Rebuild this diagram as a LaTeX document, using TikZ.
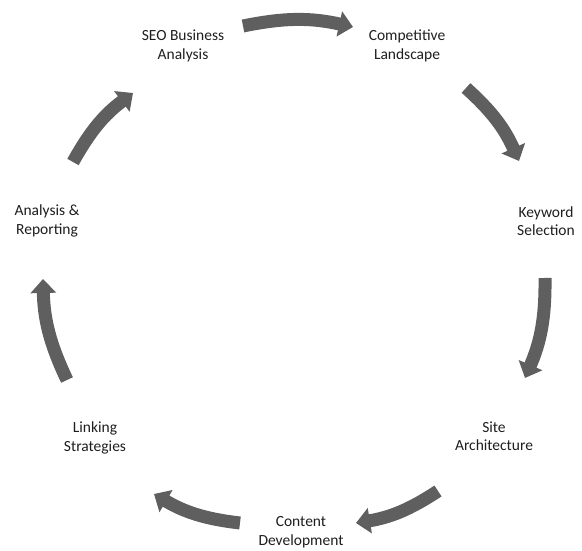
\documentclass[tikz,border=0pt]{standalone}
\usepackage{fontspec}
\setmainfont{Carlito}
\usepackage{xcolor}
\usetikzlibrary{arrows.meta}
\definecolor{CycleGray}{HTML}{5F5F5F}
\definecolor{CycleText}{HTML}{1E1E1E}
\tikzset{
  steplabel/.style={align=center,text=CycleText,inner sep=0pt,
    font=\fontsize{15.5}{18.5}\selectfont},
  cyclearrow/.style={CycleGray,line width=13pt,
    -{Triangle[width=25pt,length=14pt]}}
}

\begin{document}
\begin{tikzpicture}[x=1pt,y=1pt]
        \useasboundingbox (0,0) rectangle (582,551);

        % the seven steps
        \node[steplabel] (seo) at (183,505) {SEO Business\\Analysis};
        \node[steplabel] (comp) at (407,505) {Competitive\\Landscape};
        \node[steplabel] (keyword) at (546,330) {Keyword\\Selection};
        \node[steplabel] (site) at (494,115) {Site\\Architecture};
        \node[steplabel] (content) at (301,19) {Content\\Development};
        \node[steplabel] (linking) at (95,113) {Linking\\Strategies};
        \node[steplabel] (analysis) at (47,330) {Analysis \&\\Reporting};

        % arrow ends
        \coordinate (a1s) at (243,525);
        \coordinate (a1e) at (353,524);
        \coordinate (a2s) at (466,463);
        \coordinate (a2e) at (519,390);
        \coordinate (a3s) at (545,273);
        \coordinate (a3e) at (525,173);
        \coordinate (a4s) at (438,60);
        \coordinate (a4e) at (356,28);
        \coordinate (a5s) at (240,28);
        \coordinate (a5e) at (154,57);
        \coordinate (a6s) at (67,171);
        \coordinate (a6e) at (43,272);
        \coordinate (a7s) at (73,389);
        \coordinate (a7e) at (133,458);

        \draw[cyclearrow] (a1s) to[bend left=12] (a1e);
        \draw[cyclearrow] (a2s) to[bend left=12] (a2e);
        \draw[cyclearrow] (a3s) to[bend left=12] (a3e);
        \draw[cyclearrow] (a4s) to[bend left=12] (a4e);
        \draw[cyclearrow] (a5s) to[bend left=12] (a5e);
        \draw[cyclearrow] (a6s) to[bend left=12] (a6e);
        \draw[cyclearrow] (a7s) to[bend left=12] (a7e);
\end{tikzpicture}
\end{document}
